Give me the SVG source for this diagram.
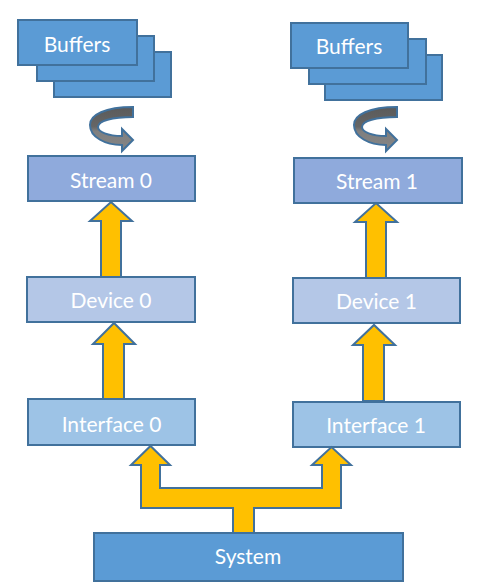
<svg xmlns="http://www.w3.org/2000/svg" width="490" height="585" viewBox="0 0 490 585">
<defs>
<linearGradient id="g" x1="0" y1="0" x2="0" y2="1">
<stop offset="0" stop-color="#5a5a5a"/>
<stop offset="0.45" stop-color="#666666"/>
<stop offset="0.55" stop-color="#7f7f7f"/>
<stop offset="1" stop-color="#858585"/>
</linearGradient>
</defs>
<style>
rect, path { stroke: #41719C; stroke-width: 2; }
.buf { fill: #5B9BD5; }
.stream { fill: #8FAADC; }
.device { fill: #B4C7E7; }
.iface { fill: #9DC3E6; }
.sys { fill: #5B9BD5; }
.arrow { fill: #FFC000; }
.turn { fill: url(#g); }
text { font-family: Lato, "Open Sans", "Liberation Sans", sans-serif; font-size: 21px; fill: #FFFFFF; text-anchor: middle; }
</style>
<g id="buffers0">
<rect class="buf" x="54" y="52" width="117" height="45"/>
<rect class="buf" x="37" y="36" width="117" height="45"/>
<rect class="buf" x="18" y="20" width="119" height="45"/>
<text x="77" y="52">Buffers</text>
</g>
<g id="buffers1">
<rect class="buf" x="325" y="55" width="117" height="45"/>
<rect class="buf" x="309" y="39" width="117" height="45"/>
<rect class="buf" x="291" y="23" width="117" height="45"/>
<text x="349" y="54">Buffers</text>
</g>
<g id="stream0">
<rect class="stream" x="28" y="156" width="167" height="45"/>
<text x="111" y="188">Stream 0</text>
</g>
<g id="stream1">
<rect class="stream" x="294" y="158" width="168" height="45"/>
<text x="377" y="189">Stream 1</text>
</g>
<g id="device0">
<rect class="device" x="27" y="277" width="168" height="45"/>
<text x="111" y="308">Device 0</text>
</g>
<g id="device1">
<rect class="device" x="293" y="278" width="167" height="45"/>
<text x="376.5" y="309">Device 1</text>
</g>
<g id="interface0">
<rect class="iface" x="28" y="399" width="167" height="46"/>
<text x="111.5" y="432">Interface 0</text>
</g>
<g id="interface1">
<rect class="iface" x="293" y="402" width="167" height="45"/>
<text x="376" y="433">Interface 1</text>
</g>
<g id="system">
<rect class="sys" x="94" y="533" width="309" height="48"/>
<text x="248" y="564">System</text>
</g>
<g id="connectors">
<path class="turn" d="M133,107 C105,107 90,115 90,125 C90,137 105,145 122,145 L122,151 L133,140 L122,129 L122,136 C108,136 98,132 98,127 C98,121 112,117 133,117 Z"/>
<path class="turn" d="M397,107 C369,107 354,115 354,125 C354,137 369,145 386,145 L386,151 L397,140 L386,129 L386,136 C372,136 362,132 362,127 C362,121 376,117 397,117 Z"/>
<path class="arrow" d="M101,277 L101,221 L90,221 L111,202 L132,221 L121,221 L121,277 Z"/>
<path class="arrow" d="M103,399 L103,344 L93,344 L114,323 L135,344 L124,344 L124,399 Z"/>
<path class="arrow" d="M366,278 L366,222 L355,222 L376,203 L397,222 L386,222 L386,278 Z"/>
<path class="arrow" d="M363,401 L363,345 L353,345 L374,325 L395,345 L384,345 L384,401 Z"/>
<path class="arrow" d="M233,533 L233,508 L141,508 L141,465 L131,465 L150.5,446 L170,465 L160,465 L160,488 L322,488 L322,465 L312,465 L331.5,447 L351,465 L341,465 L341,508 L254,508 L254,533 Z"/>
</g>
</svg>
